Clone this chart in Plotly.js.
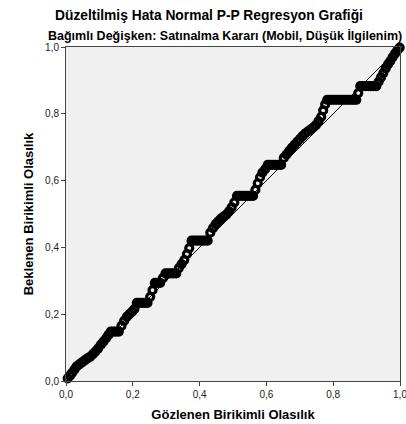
<!DOCTYPE html>
<html>
<head>
<meta charset="utf-8">
<script src="https://cdn.plot.ly/plotly-3.0.1.min.js"></script>
<style>html,body{margin:0;padding:0;background:#fff;}#chart{width:406px;height:424px;}</style>
</head>
<body>
<div id="chart"></div>
<script>
const titleLines = ["Düzeltilmiş Hata Normal P-P Regresyon Grafiği", "Bağımlı Değişken: Satınalma Kararı (Mobil, Düşük İlgilenim)"];
const xTitle = "Gözlenen Birikimli Olasılık";
const yTitle = "Beklenen Birikimli Olasılık";
const tickValues = [0, 0.2, 0.4, 0.6, 0.8, 1.0];
const tickLabels = ["0,0", "0,2", "0,4", "0,6", "0,8", "1,0"];

const observedCum = [
  0.005,0.012,0.018,0.025,0.032,0.040,0.048,0.056,0.064,0.072,0.080,0.088,0.096,0.104,0.112,0.120,0.127,
  0.134,0.142,0.150,0.158,
  0.166,0.174,0.182,0.190,0.198,0.205,
  0.212,0.220,0.228,0.236,0.244,
  0.252,0.259,
  0.266,0.274,0.282,
  0.290,
  0.298,0.306,0.314,0.322,0.330,
  0.338,0.346,0.354,0.362,0.369,
  0.376,0.384,0.392,0.400,0.408,0.416,0.424,
  0.432,0.440,0.448,0.456,0.464,0.472,0.480,0.488,0.496,0.504,
  0.512,0.520,0.528,0.536,0.544,0.552,0.560,
  0.567,0.574,0.581,0.588,0.596,
  0.604,0.612,0.620,0.628,0.636,0.644,
  0.652,0.660,0.668,0.676,0.684,0.692,0.700,0.708,0.716,0.724,0.732,0.740,0.748,0.756,0.764,0.770,0.776,
  0.782,0.790,0.798,0.806,0.814,0.822,0.830,0.838,0.846,0.854,0.862,0.869,
  0.875,
  0.881,0.889,0.897,0.905,0.913,0.921,0.929,
  0.936,0.943,0.950,0.957,0.964,0.971,0.978,0.985,0.992,0.999
];
const expectedCum = [
  0.008,0.016,0.024,0.034,0.044,0.050,0.056,0.062,0.068,0.072,0.080,0.088,0.097,0.108,0.118,0.128,0.138,
  0.148,0.148,0.148,0.148,
  0.165,0.180,0.192,0.200,0.208,0.216,
  0.234,0.234,0.234,0.234,0.234,
  0.252,0.272,
  0.294,0.294,0.294,
  0.308,
  0.322,0.322,0.322,0.322,0.322,
  0.338,0.350,0.362,0.380,0.398,
  0.420,0.420,0.420,0.420,0.420,0.420,0.420,
  0.444,0.458,0.470,0.478,0.486,0.492,0.498,0.508,0.520,0.535,
  0.554,0.554,0.554,0.554,0.554,0.554,0.554,
  0.572,0.592,0.610,0.624,0.634,
  0.647,0.647,0.647,0.647,0.647,0.647,
  0.668,0.678,0.688,0.698,0.707,0.716,0.724,0.733,0.741,0.747,0.753,0.759,0.766,0.778,0.791,0.810,0.828,
  0.842,0.842,0.842,0.842,0.842,0.842,0.842,0.842,0.842,0.842,0.842,0.842,
  0.862,
  0.883,0.883,0.883,0.883,0.883,0.883,0.883,
  0.896,0.909,0.922,0.936,0.948,0.958,0.970,0.980,0.990,0.998
];
const refLineX = [0, 1];
const refLineY = [0, 1];

const traces = [
  {x: refLineX, y: refLineY, type: 'scatter', mode: 'lines',
   line: {color: '#000', width: 1}, hoverinfo: 'skip', showlegend: false},
  {x: observedCum, y: expectedCum, type: 'scatter', mode: 'markers',
   marker: {symbol: 'circle-open', size: 7, color: '#000', line: {width: 3.2, color: '#000'}},
   showlegend: false, cliponaxis: false}
];

const axisCommon = {
  range: [0, 1], tickvals: tickValues, ticktext: tickLabels,
  ticks: 'outside', ticklen: 4, tickcolor: '#444', tickwidth: 1,
  showline: true, linecolor: '#444', linewidth: 1, mirror: true,
  showgrid: false, zeroline: false, ticklabeloverflow: 'allow',
  tickfont: {family: 'Liberation Sans, Arial, sans-serif', size: 10, color: '#222'}
};

const layout = {
  width: 406, height: 424,
  margin: {l: 66, r: 6, t: 47, b: 43},
  paper_bgcolor: '#fff', plot_bgcolor: '#f0f0f0',
  font: {family: 'Liberation Sans, Arial, sans-serif', color: '#000'},
  xaxis: Object.assign({}, axisCommon, {
    title: {text: '<b>' + xTitle + '</b>', font: {size: 13, color: '#000'}, standoff: 10}
  }),
  yaxis: Object.assign({}, axisCommon, {
    title: {text: '<b>' + yTitle + '</b>', font: {size: 13, color: '#000'}, standoff: 8}
  }),
  annotations: [
    {text: '<b>' + titleLines[0] + '</b>', xref: 'paper', yref: 'paper', x: 0.428, y: 1, yshift: 32,
     xanchor: 'center', yanchor: 'middle', showarrow: false, font: {size: 13.8, color: '#000'}},
    {text: '<b>' + titleLines[1] + '</b>', xref: 'paper', yref: 'paper', x: 0.476, y: 1, yshift: 12,
     xanchor: 'center', yanchor: 'middle', showarrow: false, font: {size: 12.5, color: '#000'}}
  ]
};

Plotly.newPlot('chart', traces, layout, {displayModeBar: false, staticPlot: true});
</script>
</body>
</html>
